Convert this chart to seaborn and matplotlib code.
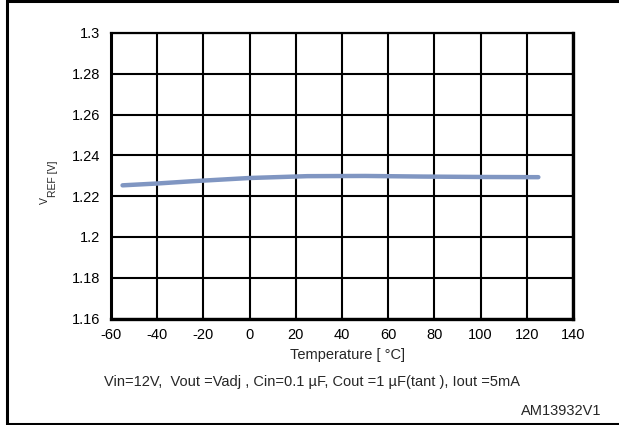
import matplotlib
matplotlib.use("Agg")
import matplotlib.pyplot as plt
import seaborn as sns
import pandas as pd
from matplotlib.lines import Line2D

temperature = [-55, -40, -25, 0, 25, 50, 75, 100, 125]
vref = [1.2253, 1.2262, 1.2273, 1.2289, 1.2298, 1.2299, 1.2296, 1.2294, 1.2293]
x_ticks = [-60, -40, -20, 0, 20, 40, 60, 80, 100, 120, 140]
y_ticks = [1.16, 1.18, 1.2, 1.22, 1.24, 1.26, 1.28, 1.3]
y_tick_labels = ["1.16", "1.18", "1.2", "1.22", "1.24", "1.26", "1.28", "1.3"]

sns.set_style("white")
plt.rcParams["font.family"] = ["Liberation Sans", "DejaVu Sans"]

df = pd.DataFrame({"T": temperature, "V": vref})

W, H = 619, 425
fig = plt.figure(figsize=(W / 100, H / 100), dpi=100)
ax = fig.add_axes([111 / W, 1 - 318.5 / H, (573 - 111) / W, (318.5 - 33) / H])

sns.lineplot(data=df, x="T", y="V", ax=ax, color="#8096c2", linewidth=3.2,
             solid_capstyle="round", zorder=5)

ax.set_xlim(-60, 140)
ax.set_ylim(1.16, 1.3)
ax.set_xticks(x_ticks)
ax.set_xticklabels([str(v) for v in x_ticks], fontsize=10.5)
ax.set_yticks(y_ticks)
ax.set_yticklabels(y_tick_labels, fontsize=10.5)
ax.grid(True, color="black", linewidth=1.5)
ax.tick_params(axis="x", direction="out", length=4, width=1.5, pad=3, colors="black")
ax.tick_params(axis="y", direction="out", length=2, width=1.5, pad=6, colors="black")
for side, lw in [("left", 2.2), ("bottom", 2.4), ("right", 2.4), ("top", 1.6)]:
    ax.spines[side].set_visible(True)
    ax.spines[side].set_color("black")
    ax.spines[side].set_linewidth(lw)
ax.set_xlabel("")
ax.set_ylabel("")

fig.text(348 / W, 1 - 355 / H, "Temperature [ °C]", ha="center", va="center", fontsize=10.5)
fig.text(45 / W, 1 - 201 / H, "V", ha="center", va="center", rotation=90, fontsize=7.5)
fig.text(53 / W, 1 - 179 / H, "REF [V]", ha="center", va="center", rotation=90, fontsize=7.5)
fig.text(312 / W, 1 - 382 / H,
         "Vin=12V,  Vout =Vadj , Cin=0.1 µF, Cout =1 µF(tant ), Iout =5mA",
         ha="center", va="center", fontsize=10.5)
fig.text(601 / W, 1 - 411 / H, "AM13932V1", ha="right", va="center", fontsize=10.5)

# outer frame
fig.add_artist(Line2D([7 / W, 7 / W], [0, 1], transform=fig.transFigure, color="black", linewidth=2.2))
fig.add_artist(Line2D([7 / W, 1], [1 - 1 / H, 1 - 1 / H], transform=fig.transFigure, color="black", linewidth=2.2))
fig.add_artist(Line2D([7 / W, 1], [1 / H, 1 / H], transform=fig.transFigure, color="black", linewidth=2.2))

fig.savefig("out.png", dpi=100)
